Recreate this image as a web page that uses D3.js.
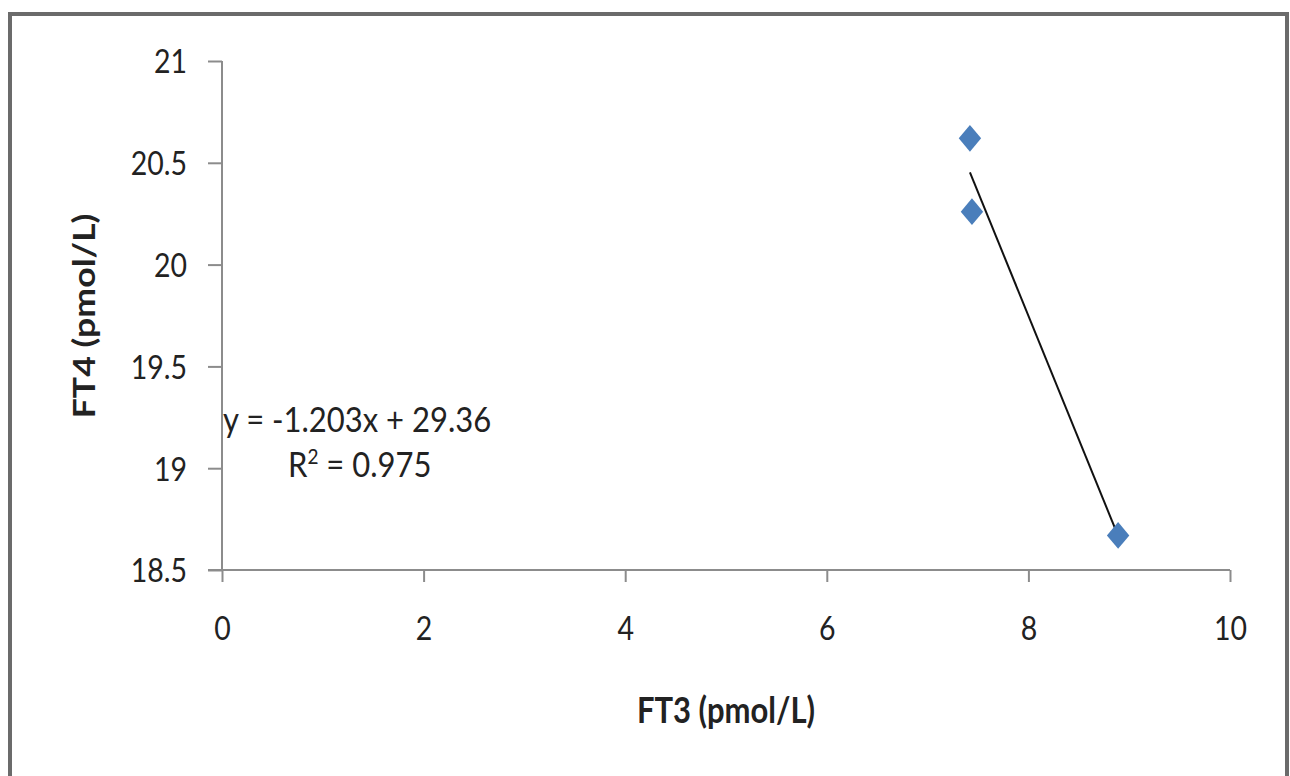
<!DOCTYPE html>
<html>
<head>
<meta charset="utf-8">
<script src="https://cdn.jsdelivr.net/npm/d3@7"></script>
<style>
  body { margin: 0; background: #fff; }
  text { font-family: Lato, "Open Sans", sans-serif; fill: #222; }
</style>
</head>
<body>
<svg id="chart"></svg>
<script>
// data
var ft3 = [7.42, 7.44, 8.89];
var ft4 = [20.62, 20.26, 18.67];
var xTicks = [0, 2, 4, 6, 8, 10];
var yTicks = [18.5, 19, 19.5, 20, 20.5, 21];
var eqSlope = -1.203, eqIntercept = 29.36, r2 = 0.975;

var svgWidth = 1290, svgHeight = 776;
var stretch = 1.15; // the original picture is a bit taller than it is wide
var svg = d3.select('#chart')
    .attr('width', svgWidth)
    .attr('height', svgHeight);

// outer frame
svg.append('path')
    .attr('d', 'M10,' + (svgHeight + 5) + 'V14H1287V' + (svgHeight + 5))
    .attr('fill', 'none')
    .attr('stroke', '#6b6b6b')
    .attr('stroke-width', 4);

var x = d3.scaleLinear().domain([0, 10]).range([222, 1230]);
var y = d3.scaleLinear().domain([18.5, 21]).range([570, 61]);

// put text at (px, py) and stretch it vertically
function place(sel, px, py) {
    sel.attr('x', 0).attr('y', 0)
        .attr('transform', 'translate(' + px + ',' + py + ') scale(1,' + stretch + ')');
}

var xAxis = svg.append('g')
    .attr('transform', 'translate(0,570)')
    .call(d3.axisBottom(x).tickValues(xTicks).tickSize(12).tickFormat(d3.format('d')));

var yAxis = svg.append('g')
    .attr('transform', 'translate(222,0)')
    .call(d3.axisLeft(y).tickValues(yTicks).tickSize(14).tickFormat(function(d) { return String(d); }));

[xAxis, yAxis].forEach(function(a) {
    a.selectAll('path, line').attr('stroke', '#8c8c8c').attr('stroke-width', 2);
    a.selectAll('text').style('font-size', '28.5px').attr('fill', '#333').attr('dy', '0.36em');
});
xAxis.selectAll('text').call(place, 0, 58);
yAxis.selectAll('text').call(place, -35, 0);
xAxis.select('.domain').attr('d', 'M208,0H1230');
yAxis.select('.domain').attr('d', 'M0,570V61');

// least squares trendline over the range of the data
var mx = d3.mean(ft3), my = d3.mean(ft4);
var sxy = d3.sum(ft3, function(d, i) { return (d - mx) * (ft4[i] - my); });
var sxx = d3.sum(ft3, function(d) { return (d - mx) * (d - mx); });
var slope = sxy / sxx, icpt = my - slope * mx;
var xr = d3.extent(ft3);
svg.append('line')
    .attr('x1', x(xr[0])).attr('y1', y(slope * xr[0] + icpt))
    .attr('x2', x(xr[1])).attr('y2', y(slope * xr[1] + icpt))
    .attr('stroke', '#111')
    .attr('stroke-width', 2);

// diamonds
svg.selectAll('path.pt')
    .data(ft3)
    .enter()
    .append('path')
    .attr('class', 'pt')
    .attr('d', d3.symbol().type(d3.symbolDiamond2).size(320))
    .attr('transform', function(d, i) { return 'translate(' + x(d) + ',' + y(ft4[i]) + ') scale(1,1.2)'; })
    .attr('fill', '#4a7ebb');

// equation label
svg.append('text')
    .style('font-size', '31px')
    .text('y = ' + eqSlope + 'x + ' + eqIntercept)
    .call(place, 223, 432);
var r = svg.append('text')
    .style('font-size', '31px')
    .call(place, 288, 477);
r.append('tspan').text('R');
r.append('tspan').attr('dy', -11).style('font-size', '19px').text('2');
r.append('tspan').attr('dy', 11).text(' = ' + r2);

// axis titles
svg.append('text')
    .attr('text-anchor', 'middle')
    .style('font-size', '31px').style('font-weight', 'bold')
    .text('FT3 (pmol/L)')
    .call(place, 726, 723);
svg.append('text')
    .attr('text-anchor', 'middle')
    .attr('transform', 'translate(95,316) rotate(-90) scale(' + stretch + ',1)')
    .style('font-size', '31px').style('font-weight', 'bold')
    .text('FT4 (pmol/L)');
</script>
</body>
</html>
